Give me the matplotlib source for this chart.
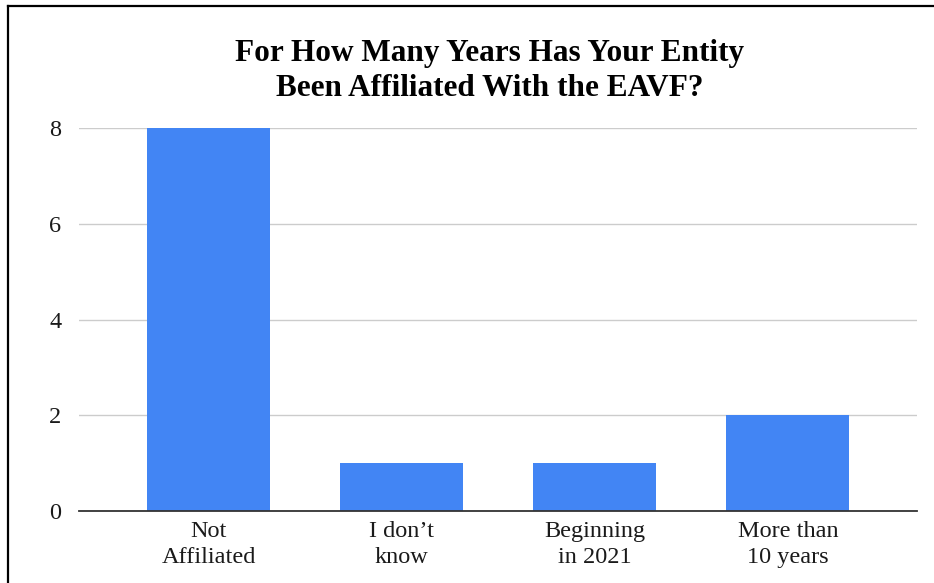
import matplotlib

matplotlib.use("Agg")
import matplotlib.pyplot as plt
from matplotlib.lines import Line2D

categories = ["Not\nAffiliated", "I don\u2019t\nknow", "Beginning\nin 2021", "More than\n10 years"]
counts = [8, 1, 1, 2]
y_ticks = [0, 2, 4, 6, 8]
title = "For How Many Years Has Your Entity\nBeen Affiliated With the EAVF?"

W, H = 934, 583
plt.rcParams["font.family"] = ["Liberation Serif", "DejaVu Serif"]

fig = plt.figure(figsize=(W / 100, H / 100), dpi=100)
ax = fig.add_axes([78.7 / W, 1 - 511 / H, (917 - 78.7) / W, (511 - 128) / H])

positions = list(range(len(categories)))
ax.bar(positions, counts, width=0.637, color="#4285F4", zorder=3)

ax.set_xlim(-0.672, 3.668)
ax.set_ylim(0, 8)
ax.set_yticks(y_ticks)
ax.set_yticklabels([str(t) for t in y_ticks])
ax.set_xticks(positions)
ax.set_xticklabels(categories, linespacing=1.3)
ax.tick_params(axis="both", length=0, labelsize=17.5, colors="#1a1a1a")
ax.tick_params(axis="y", pad=12.5)
ax.tick_params(axis="x", pad=7)

ax.grid(axis="y", color="#cccccc", linewidth=1, zorder=0)
for side in ["top", "right", "left"]:
    ax.spines[side].set_visible(False)
ax.spines["bottom"].set_color("#333333")
ax.spines["bottom"].set_linewidth(1.3)
ax.spines["bottom"].set_zorder(4)

fig.text(490 / W, 1 - 71 / H, title, ha="center", va="center",
         fontsize=22.5, fontweight="bold", linespacing=1.25)

# outer frame, cut off at right and bottom
fig.add_artist(Line2D([8 / W, 8 / W], [0, 1 - 6 / H], transform=fig.transFigure,
                      color="black", linewidth=1.6))
fig.add_artist(Line2D([8 / W, 1], [1 - 6 / H, 1 - 6 / H], transform=fig.transFigure,
                      color="black", linewidth=1.6))

fig.savefig("out.png", dpi=100)
